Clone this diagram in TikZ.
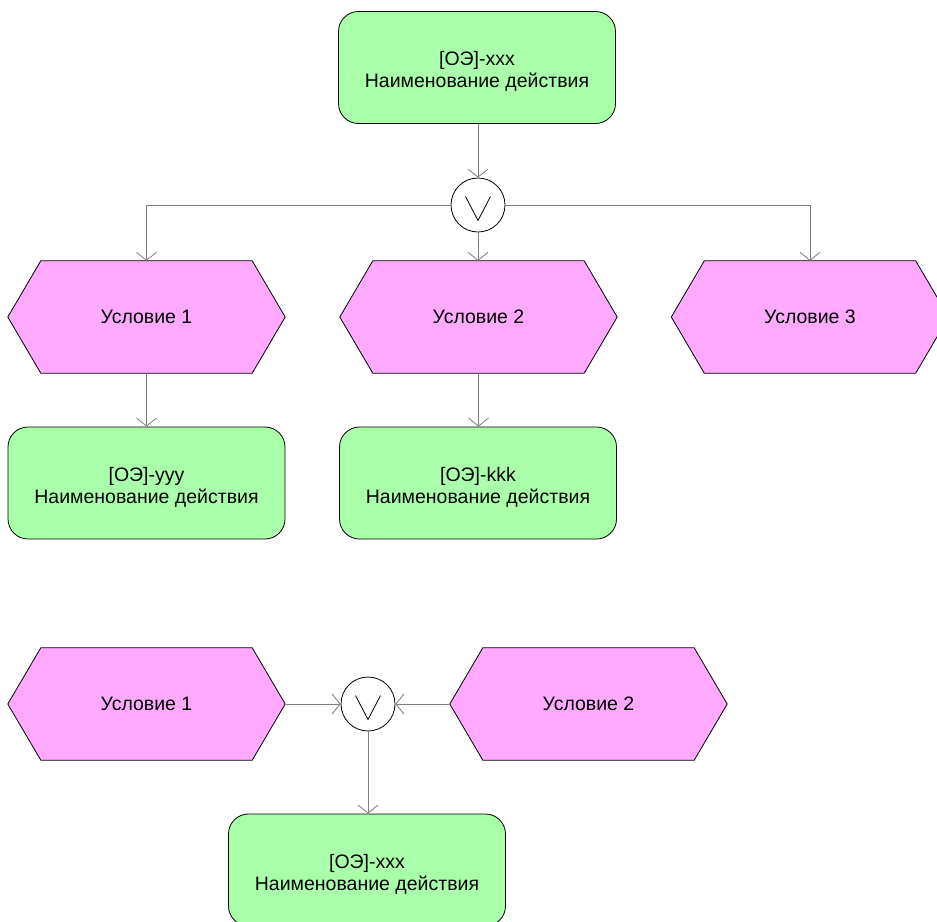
\documentclass[tikz,border=0pt]{standalone}
\usepackage{fontspec}
\setmainfont{Liberation Sans}
\usetikzlibrary{arrows.meta}
\definecolor{actgreen}{HTML}{AAFFAA}
\definecolor{condpink}{HTML}{FFAAFF}
\definecolor{conngray}{HTML}{808080}
\tikzset{
  act/.style={rectangle, rounded corners=20pt, draw=black, line width=0.8pt, fill=actgreen,
    minimum width=277pt, minimum height=112pt, inner sep=0pt},
  acttext/.style={align=center, inner sep=0pt, font=\fontsize{19.5}{22}\selectfont},
  condbox/.style={rectangle, minimum width=277pt, minimum height=112pt, inner sep=0pt},
  condtext/.style={inner sep=0pt, font=\fontsize{19.5}{22}\selectfont},
  hexshape/.style={draw=black, line width=0.8pt, fill=condpink},
  oper/.style={circle, draw=black, line width=0.8pt, fill=white, minimum size=54pt, inner sep=0pt},
  conn/.style={draw=conngray, line width=0.8pt},
  flow/.style={conn, -{Straight Barb[length=8pt,width=20pt,line width=0.8pt]}},
}
\newcommand{\hexdraw}[1]{%
  \path[hexshape] (#1.west) -- ([xshift=33pt]#1.north west) -- ([xshift=-33pt]#1.north east)
    -- (#1.east) -- ([xshift=-33pt]#1.south east) -- ([xshift=33pt]#1.south west) -- cycle;}
\newcommand{\vsign}[1]{%
  \draw[black, line width=0.8pt] ([xshift=-12.5pt,yshift=8.5pt]#1.center) -- ([yshift=-15.5pt]#1.center) -- ([xshift=12.5pt,yshift=8.5pt]#1.center);}
\begin{document}
\begin{tikzpicture}[x=1pt,y=-1pt]
\useasboundingbox (0,0) rectangle (937,921);
\fill[white] (0,0) rectangle (937,921);
% top group
\node[act] (top) at (477,67.5) {};
\node[acttext] (topt) at ([yshift=-4pt]top.center) {[ОЭ]-xxx\\Наименование действия};
\node[oper] (c1) at (478,205) {};
\vsign{c1}
\node[condbox] (h1) at (146.5,317) {};
\node[condbox] (h2) at (478.5,317) {};
\node[condbox] (h3) at (810,317) {};
\hexdraw{h1}\hexdraw{h2}\hexdraw{h3}
\node[condtext] (h1t) at (h1) {Условие 1};
\node[condtext] (h2t) at (h2) {Условие 2};
\node[condtext] (h3t) at (h3) {Условие 3};
\node[act] (g1) at (146.5,483) {};
\node[acttext] (g1t) at ([yshift=-4pt]g1.center) {[ОЭ]-yyy\\Наименование действия};
\node[act] (g2) at (478,483) {};
\node[acttext] (g2t) at ([yshift=-4pt]g2.center) {[ОЭ]-kkk\\Наименование действия};
\draw[flow] (c1.north |- top.south) -- (c1.north);
\draw[flow] (c1.west) -| (h1.north);
\draw[flow] (c1.south) -- (c1.south |- h2.north);
\draw[flow] (c1.east) -| (h3.north);
\draw[flow] (h1.south) -- (g1.north);
\draw[flow] (h2.south) -- (h2.south |- g2.north);
% bottom group
\node[condbox] (h4) at (146.5,704) {};
\node[condbox] (h5) at (588.5,704) {};
\hexdraw{h4}\hexdraw{h5}
\node[condtext] (h4t) at (h4) {Условие 1};
\node[condtext] (h5t) at (h5) {Условие 2};
\node[oper] (c2) at (368,704) {};
\vsign{c2}
\node[act] (g3) at (367,870) {};
\node[acttext] (g3t) at ([yshift=-4pt]g3.center) {[ОЭ]-xxx\\Наименование действия};
\draw[flow] (h4.east) -- (c2.west);
\draw[flow] (h5.west) -- (c2.east);
\draw[flow] (c2.south) -- (c2.south |- g3.north);
\end{tikzpicture}
\end{document}
